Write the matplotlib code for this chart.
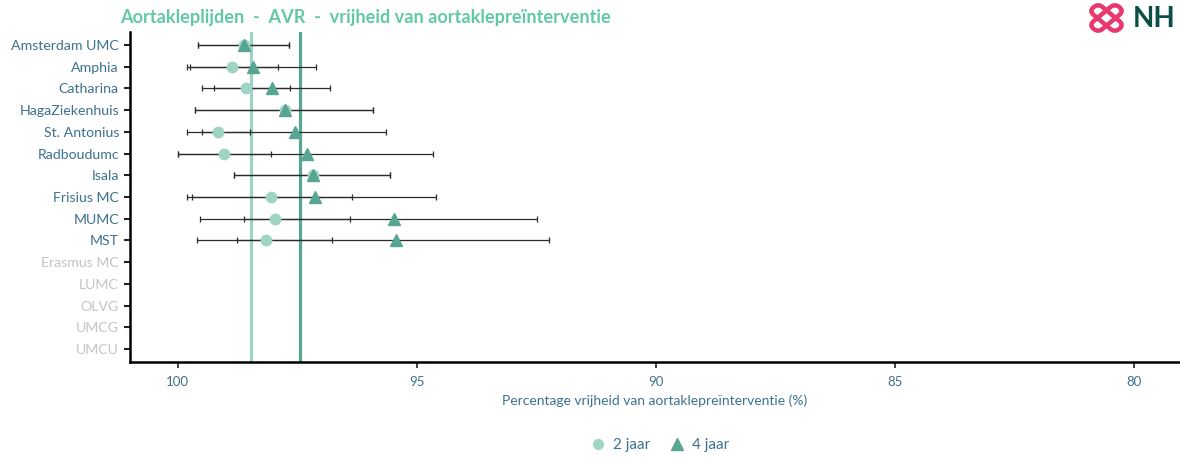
import matplotlib
matplotlib.use("Agg")
import matplotlib.pyplot as plt
from matplotlib.lines import Line2D
from matplotlib.patches import FancyBboxPatch
import matplotlib.transforms as mtransforms
import numpy as np

plt.rcParams['font.family'] = ['Lato', 'DejaVu Sans']

hospitals = ["Amsterdam UMC", "Amphia", "Catharina", "HagaZiekenhuis", "St. Antonius",
             "Radboudumc", "Isala", "Frisius MC", "MUMC", "MST",
             "Erasmus MC", "LUMC", "OLVG", "UMCG", "UMCU"]
has_data = [True] * 10 + [False] * 5

val_2 = [98.62, 98.86, 98.57, 97.76, 99.15, 99.04, 97.18, 98.06, 97.96, 98.15]
lo_2 = [97.68, 97.91, 97.66, 95.91, 98.48, 98.06, 95.56, 96.36, 96.39, 96.78]
hi_2 = [99.57, 99.75, 99.24, 99.64, 99.50, 100.0, 98.82, 99.71, 98.62, 98.77]

val_4 = [98.62, 98.42, 98.03, 97.76, 97.55, 97.29, 97.18, 97.13, 95.47, 95.43]
lo_4 = [97.68, 97.11, 96.82, 95.91, 95.65, 94.66, 95.56, 94.61, 92.49, 92.23]
hi_4 = [99.57, 99.81, 99.50, 99.64, 99.81, 100.0, 98.82, 99.81, 99.54, 99.59]

ref_2 = 98.47
ref_4 = 97.45

x_ticks = [100, 95, 90, 85, 80]

c2 = "#9fd4c5"
c4 = "#57a693"
label_col = "#3d7190"
grey_col = "#c4c4c4"

fig = plt.figure(figsize=(11.8, 4.57), dpi=100)
ax = fig.add_axes([130 / 1180, 1 - 362 / 457, 1 - 130 / 1180, (362 - 32) / 457])

n = len(hospitals)
ypos = np.arange(n, 0, -1)

ax.axvline(ref_2, color=c2, lw=2.3, zorder=1)
ax.axvline(ref_4, color=c4, lw=2.3, zorder=1)

m = len(val_2)
y_d = ypos[:m]
v2 = np.array(val_2); v4 = np.array(val_4)
ax.errorbar(v4, y_d, xerr=[v4 - np.array(lo_4), np.array(hi_4) - v4], fmt='none',
            ecolor="#2b2b2b", elinewidth=0.9, capsize=2.5, capthick=0.9, zorder=2)
ax.errorbar(v2, y_d, xerr=[v2 - np.array(lo_2), np.array(hi_2) - v2], fmt='none',
            ecolor="#2b2b2b", elinewidth=0.9, capsize=2.5, capthick=0.9, zorder=2)
ax.plot(v2, y_d, 'o', color=c2, ms=7.5, mec=c2, zorder=3, linestyle='none')
ax.plot(v4, y_d, '^', color=c4, ms=8.5, mec=c4, zorder=4, linestyle='none')

ax.set_xlim(101.0, 79.04)
ax.set_ylim(0.4, n + 0.6)
ax.set_yticks(ypos)
ax.set_yticklabels(hospitals, fontsize=10.2)
for lab, hd in zip(ax.get_yticklabels(), has_data):
    lab.set_color(label_col if hd else grey_col)
ax.set_xticks(x_ticks)
ax.set_xticklabels([str(t) for t in x_ticks], fontsize=9.5, color=label_col)
ax.tick_params(axis='x', length=4, width=1.2, color='#222222', pad=6)
ax.tick_params(axis='y', length=4, width=1.5, color='#222222', pad=4)
for s in ['top', 'right']:
    ax.spines[s].set_visible(False)
ax.spines['left'].set_linewidth(1.8)
ax.spines['bottom'].set_linewidth(1.8)
ax.set_xlabel("Percentage vrijheid van aortaklepreïnterventie (%)", fontsize=10,
              color=label_col, labelpad=5)

fig.text(120 / 1180, 1 - 17 / 457, "Aortakleplijden  -  AVR  -  vrijheid van aortaklepreïnterventie",
         fontsize=13.1, fontweight='bold', color="#62c9a8", ha='left', va='center')

handles = [Line2D([], [], marker='o', color=c2, ls='none', ms=7),
           Line2D([], [], marker='^', color=c4, ls='none', ms=8)]
fig.legend(handles, ["2 jaar", "4 jaar"], loc='center', bbox_to_anchor=(659 / 1180, 1 - 445 / 457),
           ncol=2, frameon=False, fontsize=11, labelcolor=label_col, handletextpad=0.4,
           columnspacing=1.1, handlelength=1.2)

# logo
pink = "#e8386d"
lax = fig.add_axes([1085 / 1180, 1 - 36 / 457, 43 / 1180, 36 / 457])
lax.set_xlim(-1, 1); lax.set_ylim(-1, 1); lax.axis('off')
for ang in (45, -45):
    p = FancyBboxPatch((-0.85, -0.3), 1.7, 0.6, boxstyle="round,pad=0,rounding_size=0.3",
                       fc='none', ec=pink, lw=3.2)
    p.set_transform(mtransforms.Affine2D().rotate_deg(ang) + lax.transData)
    lax.add_patch(p)
fig.text(1133 / 1180, 1 - 19 / 457, "NH", fontsize=20, fontweight='bold', color="#0b4d47",
         ha='left', va='center')

fig.savefig("out.png", dpi=100)
